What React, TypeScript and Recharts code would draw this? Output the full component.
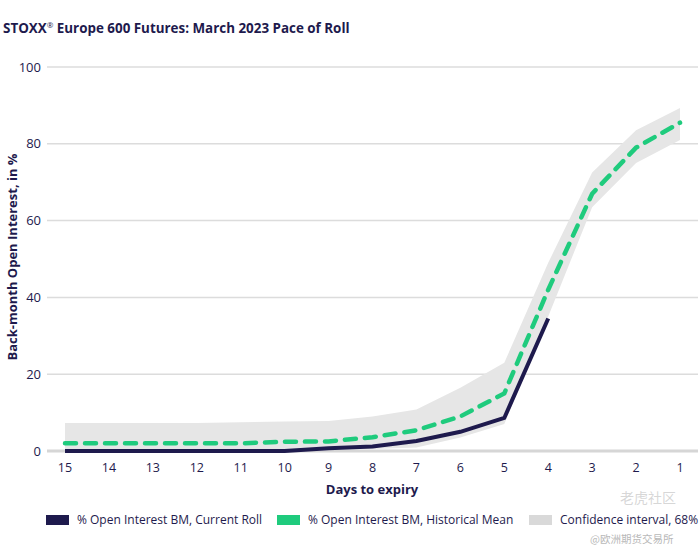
import React from "react"
import {
  ComposedChart,
  Line,
  Area,
  XAxis,
  YAxis,
  CartesianGrid,
} from "recharts"

const days = ["15", "14", "13", "12", "11", "10", "9", "8", "7", "6", "5", "4", "3", "2", "1"]
const currentRoll = [0, 0, 0, 0, 0, 0, 0.7, 1.2, 2.6, 5, 8.6, 34.5, null, null, null]
const historicalMean = [2, 2, 2, 2, 2, 2.4, 2.5, 3.6, 5.4, 9, 15, 42, 67, 79, 85.5]
const ciLow = [0, 0, 0, 0, 0, 0, 0.2, 0.5, 0.9, 3.5, 7, 35, 63.5, 75, 81]
const ciHigh = [7.3, 7.3, 7.3, 7.3, 7.5, 7.7, 7.8, 9, 10.8, 16.5, 23, 49, 72.5, 83.5, 89.3]
const yTicks = [0, 20, 40, 60, 80, 100]

const NAVY = "#1e1a4d"
const GREEN = "#1fcb7d"
const BAND = "#e6e6e6"
const FONT = "'Open Sans', sans-serif"

const data = days.map((d, i) => ({
  day: d,
  current: currentRoll[i],
  mean: historicalMean[i],
  band: [ciLow[i], ciHigh[i]],
}))

// zero line is drawn heavier than the others
function GridLine(props: any) {
  const { x1, y1, x2, y2, index, key } = props
  const isBase = y1 > 445
  return (
    <line
      key={key ?? index}
      x1={x1}
      y1={y1}
      x2={x2}
      y2={y2}
      stroke={isBase ? "#d6d6d6" : "#dcdcdc"}
      strokeWidth={isBase ? 3 : 1.5}
    />
  )
}

function LegendItem({ left, color, label }: { left: number; color: string; label: string }) {
  return (
    <div style={{ position: "absolute", left, top: 511, display: "flex", alignItems: "center", gap: 8 }}>
      <div style={{ width: 23, height: 10, background: color }} />
      <span style={{ fontSize: 12, color: NAVY, whiteSpace: "nowrap" }}>{label}</span>
    </div>
  )
}

export default function App() {
  return (
    <div style={{ position: "absolute", left: 0, top: 0, width: 700, height: 553, background: "#fff", fontFamily: FONT, overflow: "hidden" }}>
      <div style={{ position: "absolute", left: 3, top: 19, fontSize: 13.4, fontWeight: 700, color: NAVY, whiteSpace: "nowrap" }}>
        STOXX<sup style={{ fontSize: 8, fontWeight: 400 }}>®</sup> Europe 600 Futures: March 2023 Pace of Roll
      </div>
      <ComposedChart width={700} height={553} data={data} margin={{ top: 67, right: 2, left: 0, bottom: 0 }}>
        <CartesianGrid vertical={false} horizontal={(p: any) => <GridLine {...p} />} />
        <XAxis
          dataKey="day"
          height={102}
          padding={{ left: 18, right: 18 }}
          tickLine={false}
          axisLine={false}
          tick={{ fill: NAVY, fontSize: 12.5, fontFamily: FONT }}
          tickMargin={6}
          interval={0}
        />
        <YAxis
          width={47}
          domain={[0, 100]}
          ticks={yTicks}
          tickLine={false}
          axisLine={false}
          tickSize={0}
          tickMargin={6}
          tick={{ fill: NAVY, fontSize: 13, fontFamily: FONT }}
        />
        <Area
          dataKey="band"
          type="linear"
          fill={BAND}
          fillOpacity={1}
          stroke="none"
          isAnimationActive={false}
        />
        <Line
          dataKey="current"
          type="linear"
          stroke={NAVY}
          strokeWidth={4}
          dot={false}
          connectNulls={false}
          isAnimationActive={false}
        />
        <Line
          dataKey="mean"
          type="linear"
          stroke={GREEN}
          strokeWidth={4.5}
          strokeDasharray="11 9"
          strokeLinecap="round"
          dot={false}
          isAnimationActive={false}
        />
      </ComposedChart>
      <div
        style={{
          position: "absolute",
          left: 12,
          top: 257,
          transform: "translate(-50%, -50%) rotate(-90deg)",
          fontSize: 13,
          fontWeight: 700,
          color: NAVY,
          whiteSpace: "nowrap",
        }}
      >
        Back-month Open Interest, in %
      </div>
      <div style={{ position: "absolute", left: 372, top: 480, transform: "translateX(-50%)", fontSize: 13, fontWeight: 700, color: NAVY, whiteSpace: "nowrap" }}>
        Days to expiry
      </div>
      <LegendItem left={46} color={NAVY} label="% Open Interest BM, Current Roll" />
      <LegendItem left={277} color={GREEN} label="% Open Interest BM, Historical Mean" />
      <LegendItem left={529} color="#d9d9d9" label="Confidence interval, 68%" />
      <div style={{ position: "absolute", left: 620, top: 488, fontSize: 14, lineHeight: "18px", color: "rgba(180,180,180,0.55)", fontFamily: "'Noto Sans CJK SC'", whiteSpace: "nowrap" }}>
        老虎社区
      </div>
      <div style={{ position: "absolute", left: 590, top: 531, fontSize: 10.5, color: "#b8b8b8", fontFamily: "'Noto Sans CJK SC'", whiteSpace: "nowrap" }}>
        @欧洲期货交易所
      </div>
    </div>
  )
}
